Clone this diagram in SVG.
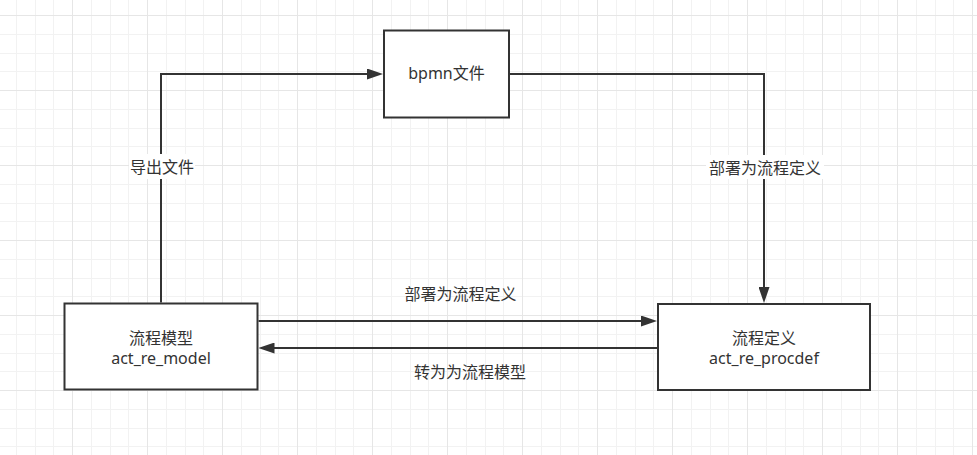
<svg xmlns="http://www.w3.org/2000/svg" width="977" height="455" viewBox="0 0 977 455">
  <style>
    .box { fill: #ffffff; stroke: #333333; stroke-width: 2; }
    .edge { fill: none; stroke: #333333; stroke-width: 2; }
    .t { font-family: "Noto Sans", "Noto Sans CJK SC", sans-serif; font-size: 16px; fill: #333333; text-anchor: middle; }
    .cjk { font-family: "Noto Sans CJK SC", sans-serif; }
    .lblbg { fill: #ffffff; }
  </style>
  <defs>
    <pattern id="grid" x="72" y="15" width="75" height="75" patternUnits="userSpaceOnUse">
      <path d="M19.5,0 V75 M38.5,0 V75 M56.5,0 V75 M0,19.5 H75 M0,38.5 H75 M0,56.5 H75" stroke="#f2f2f2" stroke-width="1" fill="none"/>
      <path d="M0.5,0 V75 M0,0.5 H75" stroke="#e6e6e6" stroke-width="1" fill="none"/>
    </pattern>
    <marker id="arrow" markerUnits="userSpaceOnUse" markerWidth="16" markerHeight="11" refX="6" refY="5.5" orient="auto" viewBox="0 0 16 11">
      <path d="M0,0 L16,5.5 L0,11 Z" fill="#333333"/>
    </marker>
  </defs>

  <rect x="0" y="0" width="977" height="455" fill="#ffffff"/>
  <rect x="0" y="0" width="977" height="455" fill="url(#grid)"/>

  <g id="connectors">
    <g id="edge-export">
      <path class="edge" d="M161,302.5 V74 H373" marker-end="url(#arrow)"/>
      <rect class="lblbg" x="129" y="154" width="66" height="25"/>
      <text class="t cjk" x="162" y="173">导出文件</text>
    </g>
    <g id="edge-deploy-bpmn">
      <path class="edge" d="M510,74 H764 V293" marker-end="url(#arrow)"/>
      <rect class="lblbg" x="706" y="155" width="118" height="24"/>
      <text class="t cjk" x="765" y="174">部署为流程定义</text>
    </g>
    <g id="edge-deploy-model">
      <path class="edge" d="M258.5,321 H647" marker-end="url(#arrow)"/>
      <text class="t cjk" x="460.5" y="300">部署为流程定义</text>
    </g>
    <g id="edge-convert">
      <path class="edge" d="M657,348 H268.5" marker-end="url(#arrow)"/>
      <text class="t cjk" x="470" y="378">转为为流程模型</text>
    </g>
  </g>

  <g id="node-bpmn">
    <rect class="box" x="384" y="30.5" width="125" height="87"/>
    <text class="t" x="446.5" y="79">bpmn文件</text>
  </g>

  <g id="node-model">
    <rect class="box" x="64.5" y="303.5" width="193" height="86"/>
    <text class="t cjk" x="161" y="344">流程模型</text>
    <text class="t" x="161" y="364">act_re_model</text>
  </g>

  <g id="node-procdef">
    <rect class="box" x="658" y="304" width="212" height="86"/>
    <text class="t cjk" x="764" y="344">流程定义</text>
    <text class="t" x="764" y="364">act_re_procdef</text>
  </g>
</svg>
